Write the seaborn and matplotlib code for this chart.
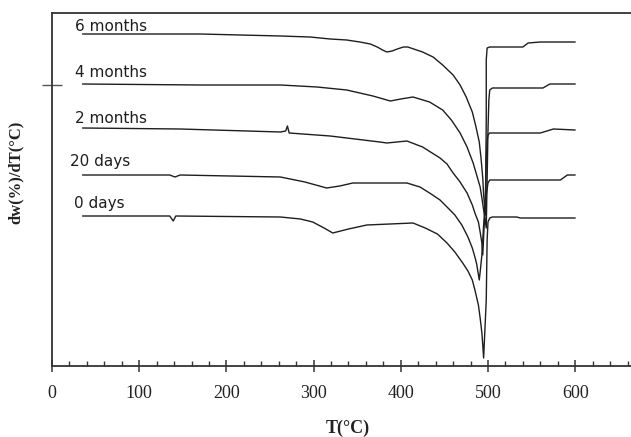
import matplotlib
matplotlib.use("Agg")
import matplotlib.pyplot as plt
import seaborn as sns
import pandas as pd
from matplotlib.ticker import MultipleLocator, FixedLocator, NullFormatter

# ---- data (temperature in °C, signal in arbitrary units) ----
t_6m = [35, 170, 262, 296, 319, 338, 353, 365, 373, 379, 384, 390, 396, 403, 408,
        425, 437, 448, 460, 468, 475, 482, 486, 490, 492, 494, 495, 497,
        498, 498, 499, 502, 540, 546, 560, 600]
y_6m = [332, 332, 330, 329, 327, 326, 324, 322, 319, 316, 314, 315, 317, 319, 319,
        314, 309, 301, 291, 281, 269, 254, 240, 224, 208, 188, 171, 151,
        246, 306, 318, 319, 319, 323, 324, 324]

t_4m = [35, 170, 262, 304, 338, 368, 380, 388, 400, 414,
        433, 448, 458, 468, 476, 483, 487, 491, 493, 495, 498,
        499, 500, 501, 502, 505, 563, 571, 600]
y_4m = [282, 281, 281, 279, 276, 270, 267, 265, 267, 269,
        264, 256, 246, 233, 219, 203, 191, 179, 168, 156, 138,
        186, 236, 266, 276, 278, 278, 282, 282]

t_2m = [35, 147, 262, 268, 270, 272, 319, 376, 384, 407,
        425, 445, 453, 460, 468, 476, 482, 485, 489, 491, 493, 494,
        497, 498, 499, 500, 502, 560, 575, 600]
y_2m = [238, 237, 234, 235, 240, 233, 230, 224, 223, 225,
        219, 208, 202, 193, 184, 173, 161, 153, 144, 134, 123, 111,
        166, 206, 226, 231, 233, 233, 237, 236]

t_20d = [35, 135, 141, 147, 262, 290, 315, 330, 345, 407,
         422, 433, 445, 453, 462, 470, 477, 482, 485, 487, 490,
         491, 493, 495, 498, 500, 502, 583, 591, 600]
y_20d = [191, 191, 189, 191, 189, 184, 178, 180, 183, 183,
         179, 173, 166, 159, 151, 141, 129, 118, 109, 102, 86,
         94, 111, 141, 171, 183, 186, 186, 191, 191]

t_0d = [35, 135, 139, 142, 262, 285, 299, 312, 322, 340, 361, 414,
        428, 442, 453, 462, 471, 477, 482, 485, 489, 491, 493, 494, 495,
        498, 499, 500, 502, 505, 533, 537, 600]
y_0d = [150, 150, 145, 150, 149, 147, 144, 138, 133, 137, 141, 143,
        138, 132, 123, 114, 103, 95, 86, 76, 61, 48, 33, 21, 8,
        66, 126, 144, 148, 149, 149, 148, 148]

labels = ["6 months", "4 months", "2 months", "20 days", "0 days"]
label_x = [26, 26, 26, 21, 25]
label_y = [335, 289, 243, 200, 158]

series = [(t_6m, y_6m), (t_4m, y_4m), (t_2m, y_2m), (t_20d, y_20d), (t_0d, y_0d)]
rows = []
for name, (ts, ys) in zip(labels, series):
    for i, (t, y) in enumerate(zip(ts, ys)):
        rows.append({"sample": name, "order": i, "T": t, "y": y})
df = pd.DataFrame(rows)

sns.set_style("white")
plt.rcParams["font.family"] = ["DejaVu Sans"]

fig = plt.figure(figsize=(6.31, 4.37), dpi=100)
ax = fig.add_axes([52 / 631, 71 / 437, 579 / 631, 353 / 437])

sns.lineplot(data=df, x="T", y="y", units="sample", estimator=None, sort=False,
             color="#1e1e1e", linewidth=1.0, ax=ax, legend=False)

for lab, lx, ly in zip(labels, label_x, label_y):
    ax.text(lx, ly, lab, fontsize=11, family="DejaVu Sans", color="#1e1e1e",
            ha="left", va="baseline")

ax.set_xlim(0, 664)
ax.set_ylim(0, 353)

ax.xaxis.set_major_locator(MultipleLocator(100))
ax.xaxis.set_minor_locator(MultipleLocator(20))
ax.yaxis.set_major_locator(FixedLocator([281]))
ax.yaxis.set_major_formatter(NullFormatter())

ax.tick_params(axis="x", which="major", direction="inout", length=9, width=1.1,
               color="#333333", pad=9, labelsize=13, labelcolor="#222222",
               bottom=True)
ax.tick_params(axis="x", which="minor", direction="in", length=3.5, width=1.0,
               color="#333333", bottom=True)
ax.tick_params(axis="y", which="major", direction="inout", length=15, width=1.0,
               color="#555555", left=True)
for lbl in ax.get_xticklabels():
    lbl.set_family("Liberation Serif")

for side in ["left", "bottom", "top"]:
    ax.spines[side].set_visible(True)
    ax.spines[side].set_color("#333333")
    ax.spines[side].set_linewidth(1.3)
ax.spines["right"].set_visible(False)

ax.set_xlabel("T(°C)", family="Liberation Serif", fontweight="bold", fontsize=13,
              color="#222222")
ax.xaxis.set_label_coords(0.51, -0.176)
ax.xaxis.label.set_va("center")
ax.set_ylabel("dw(%)/dT(°C)", family="Liberation Serif", fontweight="bold", fontsize=12,
              color="#222222")
ax.yaxis.set_label_coords(-0.062, 0.55)
ax.yaxis.label.set_va("center")

fig.savefig("out.png", dpi=100)
